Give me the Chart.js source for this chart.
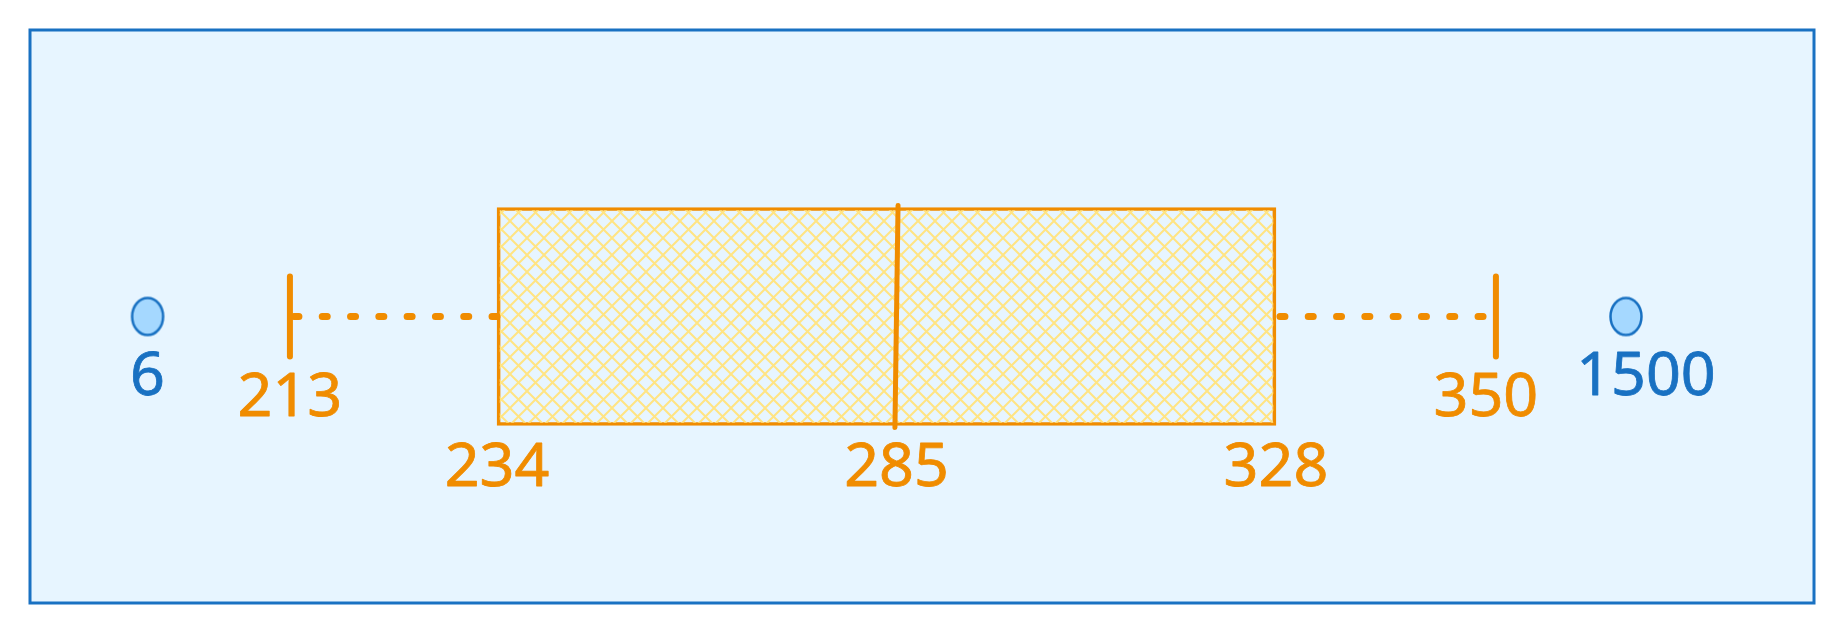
<!DOCTYPE html>
<html>
<head>
<meta charset="utf-8">
<script src="https://cdn.jsdelivr.net/npm/chart.js@4.4.1/dist/chart.umd.min.js"></script>
<style>
    html, body { margin: 0; padding: 0; background: #ffffff; }
    #wrap { width: 1844px; height: 633px; position: relative; }
</style>
</head>
<body>
<div id="wrap"><canvas id="boxChart"></canvas></div>
<script>
// Box plot summary values
const categories = ['Values'];
const statNames = ['Min', 'Q1', 'Median', 'Q3', 'Max'];
const statValues = [213, 234, 285, 328, 350];
const outlierValues = [6, 1500];

// the axis is drawn schematic (not to scale): fraction of the width for each sorted value
const axisStops = [0.0659, 0.1457, 0.2618, 0.4857, 0.6984, 0.8217, 0.8946];

const ORANGE = '#f08c00';
const BLUE = '#1971c2';

// piecewise linear scale so values land where the sketch puts them
class BrokenScale extends Chart.LinearScale {
    getPixelForValue(value) {
        if (value === null || value === undefined) return NaN;
        const stops = this.options.stops;
        let frac = stops[stops.length - 1][1];
        if (value <= stops[0][0]) {
            frac = stops[0][1];
        } else {
            for (let i = 1; i < stops.length; i++) {
                if (value <= stops[i][0]) {
                    const v0 = stops[i - 1][0], f0 = stops[i - 1][1];
                    const v1 = stops[i][0], f1 = stops[i][1];
                    frac = f0 + (value - v0) / (v1 - v0) * (f1 - f0);
                    break;
                }
            }
        }
        return this.getPixelForDecimal(frac);
    }
}
BrokenScale.id = 'broken';
BrokenScale.defaults = { ticks: { callback: v => v } };
Chart.register(BrokenScale);

const sortedValues = [...statValues, ...outlierValues].sort((a, b) => a - b);
const stops = sortedValues.map((v, i) => [v, axisStops[i]]);

// cross hatch fill for the box
function makeHatch() {
    const s = 17;
    const c = document.createElement('canvas');
    c.width = s;
    c.height = s;
    const g = c.getContext('2d');
    g.strokeStyle = '#ffe483';
    g.lineWidth = 2;
    g.beginPath();
    g.moveTo(-2, -2); g.lineTo(s + 2, s + 2);
    g.moveTo(s + 2, -2); g.lineTo(-2, s + 2);
    g.stroke();
    return g.createPattern(c, 'repeat');
}

// outlier marker: slightly tall ellipse
function makeEllipse() {
    const c = document.createElement('canvas');
    c.width = 36;
    c.height = 42;
    const g = c.getContext('2d');
    g.beginPath();
    g.ellipse(18, 21, 15.5, 18.5, 0, 0, Math.PI * 2);
    g.fillStyle = '#a5d8ff';
    g.fill();
    g.lineWidth = 2.5;
    g.strokeStyle = BLUE;
    g.stroke();
    return c;
}

const cat = categories[0];
const [vMin, vQ1, vMed, vQ3, vMax] = statValues;

const framePlugin = {
    id: 'frame',
    beforeDraw(chart) {
        const { ctx, chartArea: a } = chart;
        ctx.save();
        ctx.fillStyle = '#e7f5ff';
        ctx.fillRect(a.left, a.top, a.width, a.height);
        ctx.lineWidth = 3;
        ctx.strokeStyle = BLUE;
        ctx.strokeRect(a.left, a.top, a.width, a.height);
        ctx.restore();
    },
    beforeDatasetsDraw(chart) {
        chart.ctx.lineCap = 'round'; // rounded ends for caps and median
    }
};

// value labels under each mark
const statShiftX = [0, 0, 0, 0, -10];
const outlierShiftX = [0, 20];
function drawLabel(ctx, text, x, y, color) {
    ctx.fillStyle = color;
    ctx.strokeStyle = color;
    ctx.fillText(text, x, y);
    ctx.strokeText(text, x, y);
}
const labelPlugin = {
    id: 'valueLabels',
    afterDatasetsDraw(chart) {
        const { ctx, scales: { x, y } } = chart;
        const yMid = y.getPixelForValue(0);
        ctx.save();
        ctx.font = '61px "Noto Sans"';
        ctx.textAlign = 'center';
        ctx.textBaseline = 'alphabetic';
        ctx.lineWidth = 0.8;
        ctx.lineJoin = 'round';
        statValues.forEach((v, i) => {
            const onBox = i >= 1 && i <= 3;
            drawLabel(ctx, String(v), x.getPixelForValue(v) + statShiftX[i], yMid + (onBox ? 169 : 99), ORANGE);
        });
        outlierValues.forEach((v, i) => {
            drawLabel(ctx, String(v), x.getPixelForValue(v) + outlierShiftX[i], yMid + 78, BLUE);
        });
        ctx.restore();
    }
};

const ctx = document.getElementById('boxChart').getContext('2d');
const boxChart = new Chart(ctx, {
    type: 'bar',
    data: {
        labels: categories,
        datasets: [
            {
                label: 'Median',
                type: 'line',
                data: [{ x: vMed, y: cat }],
                showLine: false,
                pointStyle: 'line',
                pointRadius: 111,
                pointRotation: 90.8,
                pointBorderWidth: 5,
                pointBorderColor: ORANGE
            },
            {
                label: 'Whisker caps',
                type: 'line',
                data: [{ x: vMin, y: cat }, { x: vMax, y: cat }],
                showLine: false,
                pointStyle: 'line',
                pointRadius: 40,
                pointRotation: 90,
                pointBorderWidth: 6,
                pointBorderColor: ORANGE
            },
            {
                label: 'Lower whisker',
                type: 'line',
                data: [{ x: vMin, y: cat }, { x: vQ1, y: cat }],
                borderColor: ORANGE,
                borderWidth: 7,
                borderDash: [5, 23.3],
                borderDashOffset: -4,
                borderCapStyle: 'round',
                pointRadius: 0
            },
            {
                label: 'Upper whisker',
                type: 'line',
                data: [{ x: vQ3, y: cat }, { x: vMax, y: cat }],
                borderColor: ORANGE,
                borderWidth: 7,
                borderDash: [5, 23.3],
                borderDashOffset: -4,
                borderCapStyle: 'round',
                pointRadius: 0
            },
            {
                label: 'Outliers',
                type: 'line',
                data: outlierValues.map(v => ({ x: v, y: cat })),
                showLine: false,
                pointStyle: makeEllipse(),
                pointRadius: 18
            },
            {
                label: 'IQR',
                data: [[vQ1, vQ3]],
                backgroundColor: makeHatch(),
                borderColor: ORANGE,
                borderWidth: 3,
                borderSkipped: false,
                barThickness: 218,
                order: 5
            }
        ]
    },
    options: {
        indexAxis: 'y',
        responsive: true,
        maintainAspectRatio: false,
        animation: false,
        events: [],
        layout: { autoPadding: false, padding: { left: 30, right: 30, top: 30, bottom: 30 } },
        scales: {
            x: { type: 'broken', stops: stops, display: false },
            y: { type: 'category', display: false }
        },
        plugins: {
            legend: { display: false },
            tooltip: { enabled: false }
        }
    },
    plugins: [framePlugin, labelPlugin]
});
</script>
</body>
</html>
